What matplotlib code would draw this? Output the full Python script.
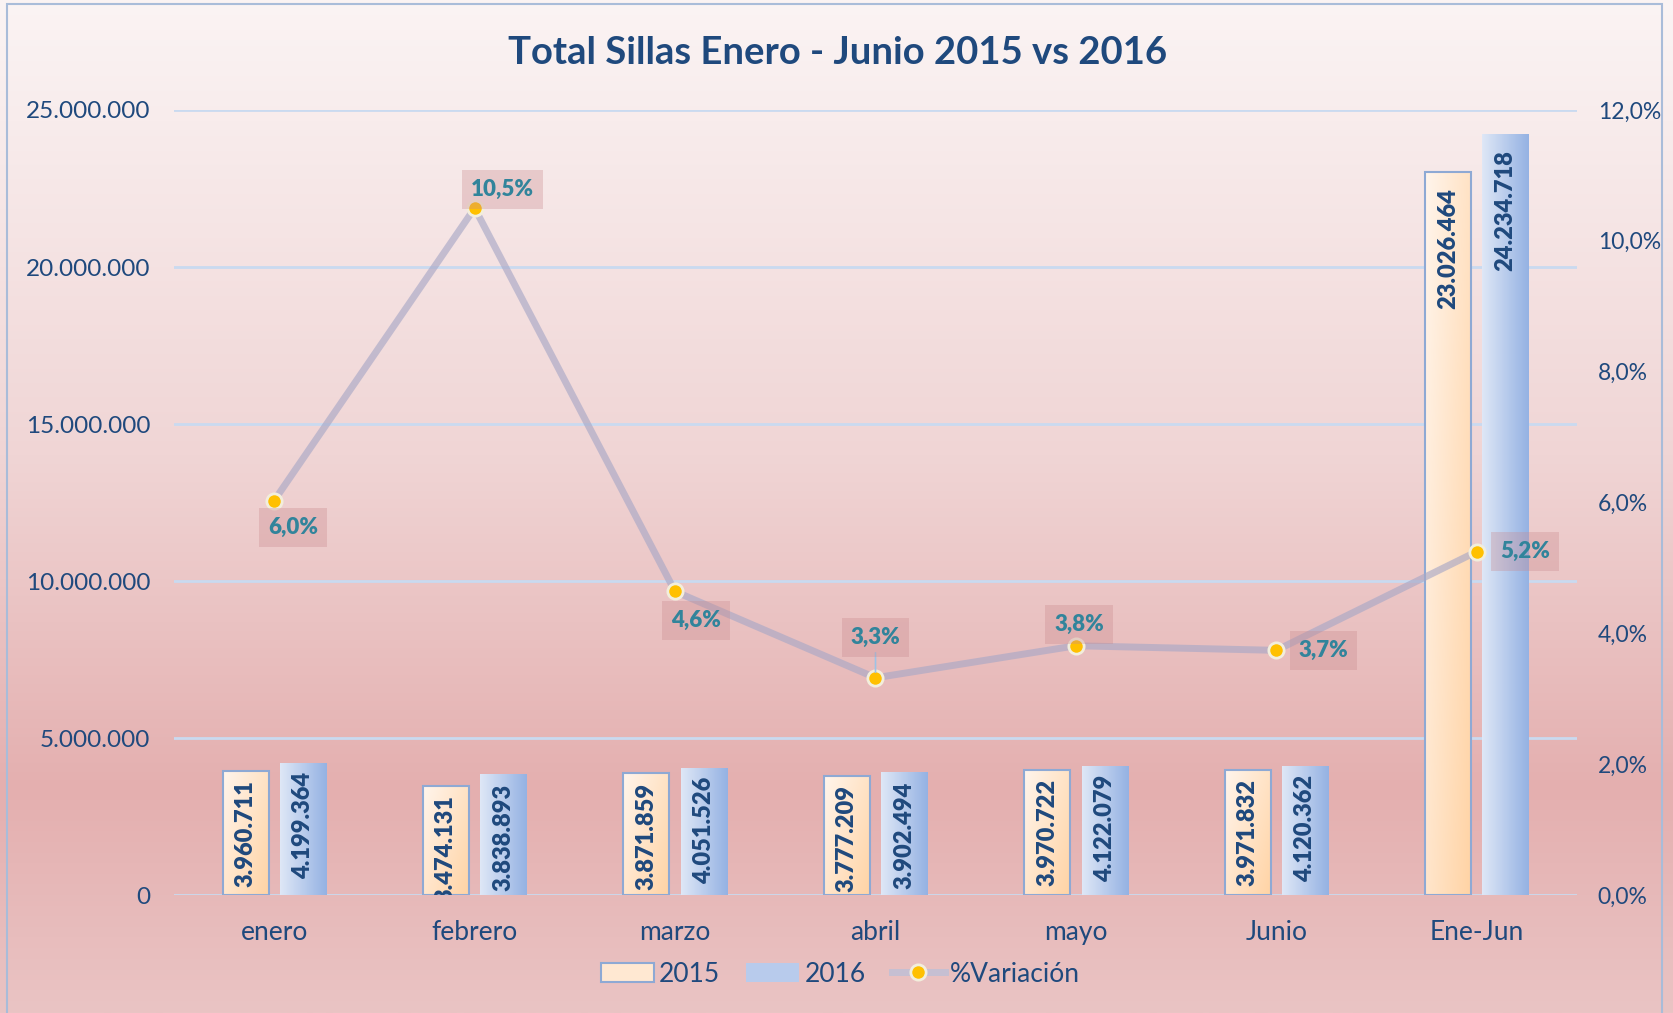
import numpy as np
import matplotlib
matplotlib.use("Agg")
import matplotlib.pyplot as plt
from matplotlib.patches import Rectangle, Patch
from matplotlib.lines import Line2D
from matplotlib.colors import to_rgb
from matplotlib.ticker import FuncFormatter, MultipleLocator

# ---------------- data ----------------
categories = ["enero", "febrero", "marzo", "abril", "mayo", "Junio", "Ene-Jun"]
sillas_2015 = [3960711, 3474131, 3871859, 3777209, 3970722, 3971832, 23026464]
sillas_2016 = [4199364, 3838893, 4051526, 3902494, 4122079, 4120362, 24234718]
variacion = [6.03, 10.50, 4.64, 3.32, 3.81, 3.74, 5.25]  # percent
pct_labels = ["6,0%", "10,5%", "4,6%", "3,3%", "3,8%", "3,7%", "5,2%"]
title = "Total Sillas Enero - Junio 2015 vs 2016"
series_names = ["2015", "2016", "%Variación"]

# ---------------- style ----------------
FONT = ["Lato", "DejaVu Sans"]
plt.rcParams["font.family"] = FONT
DARK = "#1F497D"
TEAL = "#31849B"
GRID = "#C9DAF0"

W, H = 1674, 1013
fig = plt.figure(figsize=(W / 100, H / 100), dpi=100)

# background gradient
bg = fig.add_axes([0, 0, 1, 1], zorder=-10)
stops = [(0.0, "#FBF4F4"), (0.12, "#F8ECEC"), (0.45, "#F0D5D5"),
         (0.78, "#E4AFAF"), (1.0, "#EAC4C4")]
yy = np.linspace(0, 1, 400)
cols = np.zeros((400, 3))
for c in range(3):
    cols[:, c] = np.interp(yy, [s[0] for s in stops], [to_rgb(s[1])[c] for s in stops])
bg.imshow(cols[:, None, :], aspect="auto", extent=[0, 1, 0, 1])
bg.axis("off")
bg.add_patch(Rectangle((7 / W, -0.01), (1662 - 7) / W, 1.01 - 4 / H,
                       fill=False, edgecolor="#A9BCD9", lw=1.5,
                       transform=bg.transAxes))
bg.set_xlim(0, 1); bg.set_ylim(0, 1)

# main axes
left, right, top, bottom = 174 / W, 1577 / W, 1 - 110 / H, 1 - 895 / H
ax = fig.add_axes([left, bottom, right - left, top - bottom])
ax.patch.set_visible(False)

x = np.arange(len(categories))
bw = 0.23
off = 0.143
b15 = ax.bar(x - off, sillas_2015, bw, facecolor="none", edgecolor="#8EA9D4",
             lw=1.5, zorder=3)
b16 = ax.bar(x + off, sillas_2016, bw, facecolor="none", edgecolor="none", zorder=3)

ax.set_xlim(-0.5, len(categories) - 0.5)
ax.set_ylim(0, 25000000)

# gradient fills
c15a, c15b = np.array(to_rgb("#FFF5EC")), np.array(to_rgb("#FFD3A4"))
c16a, c16b = np.array(to_rgb("#DEE7F6")), np.array(to_rgb("#95B2E3"))
nx, ny = 40, 200
gx = np.linspace(0, 1, nx)[None, :]
gy = np.linspace(0, 1, ny)[:, None]  # 0 top -> 1 bottom
for r in b15:
    t = np.clip(0.55 * gx + 0.45 * gy, 0, 1)[..., None]
    img = c15a * (1 - t) + c15b * t
    x0, y0, w, h = r.get_x(), r.get_y(), r.get_width(), r.get_height()
    im = ax.imshow(img, extent=[x0, x0 + w, y0, y0 + h], aspect="auto",
                   zorder=2, origin="upper")
    im.set_clip_path(r)
for r in b16:
    t = np.repeat(gx, 2, axis=0)[..., None]
    img = c16a * (1 - t) + c16b * t
    x0, y0, w, h = r.get_x(), r.get_y(), r.get_width(), r.get_height()
    im = ax.imshow(img, extent=[x0, x0 + w, y0, y0 + h], aspect="auto", zorder=2)
    im.set_clip_path(r)
ax.set_xlim(-0.5, len(categories) - 0.5)
ax.set_ylim(0, 25000000)

# bar labels (inside end, rotated)
def thou(v):
    return f"{int(v):,}".replace(",", ".")

for bars, vals in ((b15, sillas_2015), (b16, sillas_2016)):
    for r, v in zip(bars, vals):
        pad = -16 if v > 10000000 else -9
        ax.annotate(thou(v), (r.get_x() + r.get_width() / 2, v),
                    xytext=(0, pad), textcoords="offset pixels",
                    rotation=90, ha="center", va="top", fontsize=17,
                    fontweight="heavy", color=DARK, zorder=5, annotation_clip=False,
                    clip_on=True)

# axes style
for s in ax.spines.values():
    s.set_visible(False)
ax.yaxis.set_major_locator(MultipleLocator(5000000))
ax.yaxis.set_major_formatter(FuncFormatter(lambda v, p: thou(v)))
ax.grid(axis="y", color=GRID, lw=2, zorder=0)
ax.set_axisbelow(True)
ax.tick_params(axis="y", length=0, pad=17, labelsize=17.5, labelcolor=DARK)
ax.set_xticks(x)
ax.set_xticklabels(categories)
ax.tick_params(axis="x", length=0, pad=18, labelsize=19, labelcolor=DARK)

# secondary axis for percentage
ax2 = ax.twinx()
ax2.set_ylim(0, 12)
for s in ax2.spines.values():
    s.set_visible(False)
ax2.yaxis.set_major_locator(MultipleLocator(2))
ax2.yaxis.set_major_formatter(FuncFormatter(lambda v, p: f"{v:.1f}%".replace(".", ",")))
ax2.tick_params(axis="y", length=0, pad=15, labelsize=16.5, labelcolor=DARK)

ax2.plot(x, variacion, color="#A9A8C6", alpha=0.65, lw=5, solid_capstyle="round",
         zorder=4)
ax2.plot(x, variacion, ls="none", marker="o", ms=11, mfc="#FFC000",
         mec="#F2EEDC", mew=2, zorder=6)

# percent labels placement offsets (pixels)
offsets = [(19, -27), (28, 19), (21, -29), (0, 40), (3, 21), (47, 0), (48, 0)]
for xi, v, lab, (dx, dy) in zip(x, variacion, pct_labels, offsets):
    ax2.annotate(lab, (xi, v), xytext=(dx, dy), textcoords="offset pixels",
                 ha="center", va="center", fontsize=16, fontweight="heavy",
                 color=TEAL, zorder=7,
                 bbox=dict(boxstyle="square,pad=0.4", fc="#C98A8E", alpha=0.33,
                           ec="none"))
# leader line for abril
ax2.annotate("", (x[3], variacion[3]), xytext=(0, 25), textcoords="offset pixels",
             arrowprops=dict(arrowstyle="-", color="#9DC3E6", lw=1.2,
                             shrinkA=0, shrinkB=4), zorder=6)

# title
fig.text(0.5006, 1 - 53 / H, title, ha="center", va="center", fontsize=27.5,
         fontweight="bold", color=DARK)

# legend
handles = [
    Patch(facecolor="#FFE8D2", edgecolor="#8EA9D4", lw=1.5),
    Patch(facecolor="#B8CBEC", edgecolor="none"),
    Line2D([0], [0], color="#C6BFD2", lw=5, marker="o", ms=11, mfc="#FFC000",
           mec="#F2EEDC", mew=2),
]
fig.legend(handles, series_names, loc="center", bbox_to_anchor=(0.502, 1 - 974 / H),
           ncol=3, frameon=False, fontsize=19, handlelength=2.0, handleheight=0.7,
           columnspacing=1.0, handletextpad=0.2, labelcolor=DARK)

fig.savefig("out.png", dpi=100)
